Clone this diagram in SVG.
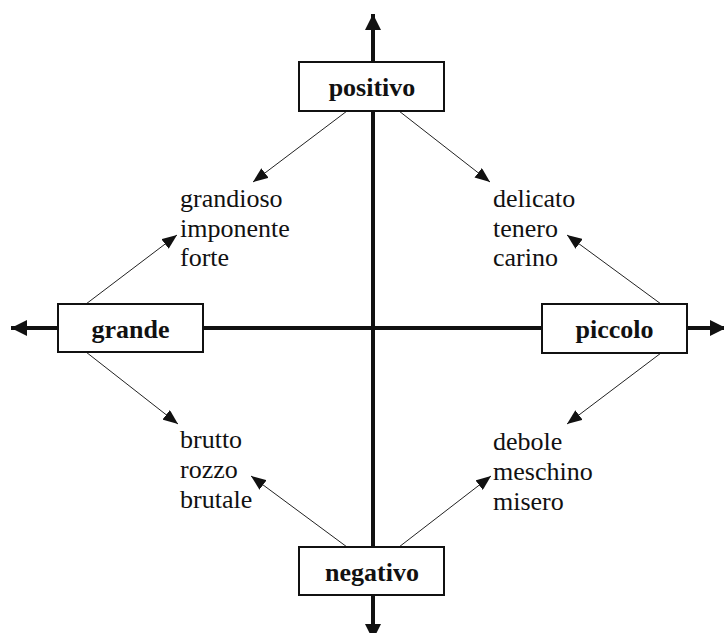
<svg xmlns="http://www.w3.org/2000/svg" width="724" height="633" viewBox="0 0 724 633">
<style>
.box{fill:#fff;stroke:#111;stroke-width:2}
.lbl{font-family:"Liberation Serif","Times New Roman",serif;font-weight:bold;font-size:26px;fill:#111;text-anchor:middle}
.word{font-family:"Liberation Serif","Times New Roman",serif;font-size:26px;fill:#111}
.axis{stroke:#111;stroke-width:4;fill:none}
.thin{stroke:#222;stroke-width:1;fill:none}
</style>
<defs>
<marker id="big" markerUnits="userSpaceOnUse" markerWidth="18" markerHeight="16" refX="16" refY="8" orient="auto">
<path d="M0,0 L16,8 L0,16 Z" fill="#111"/>
</marker>
<marker id="small" markerUnits="userSpaceOnUse" markerWidth="16" markerHeight="12" refX="15" refY="6" orient="auto">
<path d="M0,0 L15,6 L0,12 Z" fill="#111"/>
</marker>
</defs>
<g id="connectors">
<line class="axis" x1="373" y1="330" x2="373" y2="14" marker-end="url(#big)"/>
<line class="axis" x1="373" y1="328" x2="373" y2="640" marker-end="url(#big)"/>
<line class="axis" x1="373" y1="328" x2="11" y2="328" marker-end="url(#big)"/>
<line class="axis" x1="373" y1="328" x2="726" y2="328" marker-end="url(#big)"/>
<line class="thin" x1="347" y1="111" x2="253" y2="182" marker-end="url(#small)"/>
<line class="thin" x1="399" y1="111" x2="490" y2="182" marker-end="url(#small)"/>
<line class="thin" x1="86" y1="304" x2="177" y2="235" marker-end="url(#small)"/>
<line class="thin" x1="661" y1="304" x2="567" y2="235" marker-end="url(#small)"/>
<line class="thin" x1="86" y1="352" x2="178" y2="424" marker-end="url(#small)"/>
<line class="thin" x1="661" y1="353" x2="567" y2="424" marker-end="url(#small)"/>
<line class="thin" x1="347" y1="547" x2="251" y2="476" marker-end="url(#small)"/>
<line class="thin" x1="399" y1="547" x2="491" y2="476" marker-end="url(#small)"/>
</g>
<g id="positivo">
<rect class="box" x="299" y="62" width="145" height="49"/>
<text class="lbl" x="372" y="96">positivo</text>
</g>
<g id="negativo">
<rect class="box" x="299" y="547" width="145" height="48"/>
<text class="lbl" x="372" y="581">negativo</text>
</g>
<g id="grande">
<rect class="box" x="58" y="304" width="145" height="48"/>
<text class="lbl" x="130.5" y="338">grande</text>
</g>
<g id="piccolo">
<rect class="box" x="542" y="304" width="145" height="49"/>
<text class="lbl" x="614.5" y="338">piccolo</text>
</g>
<g id="words-pos-grande">
<text class="word" x="180" y="207">grandioso</text>
<text class="word" x="180" y="237">imponente</text>
<text class="word" x="180" y="266">forte</text>
</g>
<g id="words-pos-piccolo">
<text class="word" x="493" y="207">delicato</text>
<text class="word" x="493" y="237">tenero</text>
<text class="word" x="493" y="266">carino</text>
</g>
<g id="words-neg-grande">
<text class="word" x="180" y="448">brutto</text>
<text class="word" x="180" y="478">rozzo</text>
<text class="word" x="180" y="508">brutale</text>
</g>
<g id="words-neg-piccolo">
<text class="word" x="493" y="450">debole</text>
<text class="word" x="493" y="480">meschino</text>
<text class="word" x="493" y="510">misero</text>
</g>
</svg>
